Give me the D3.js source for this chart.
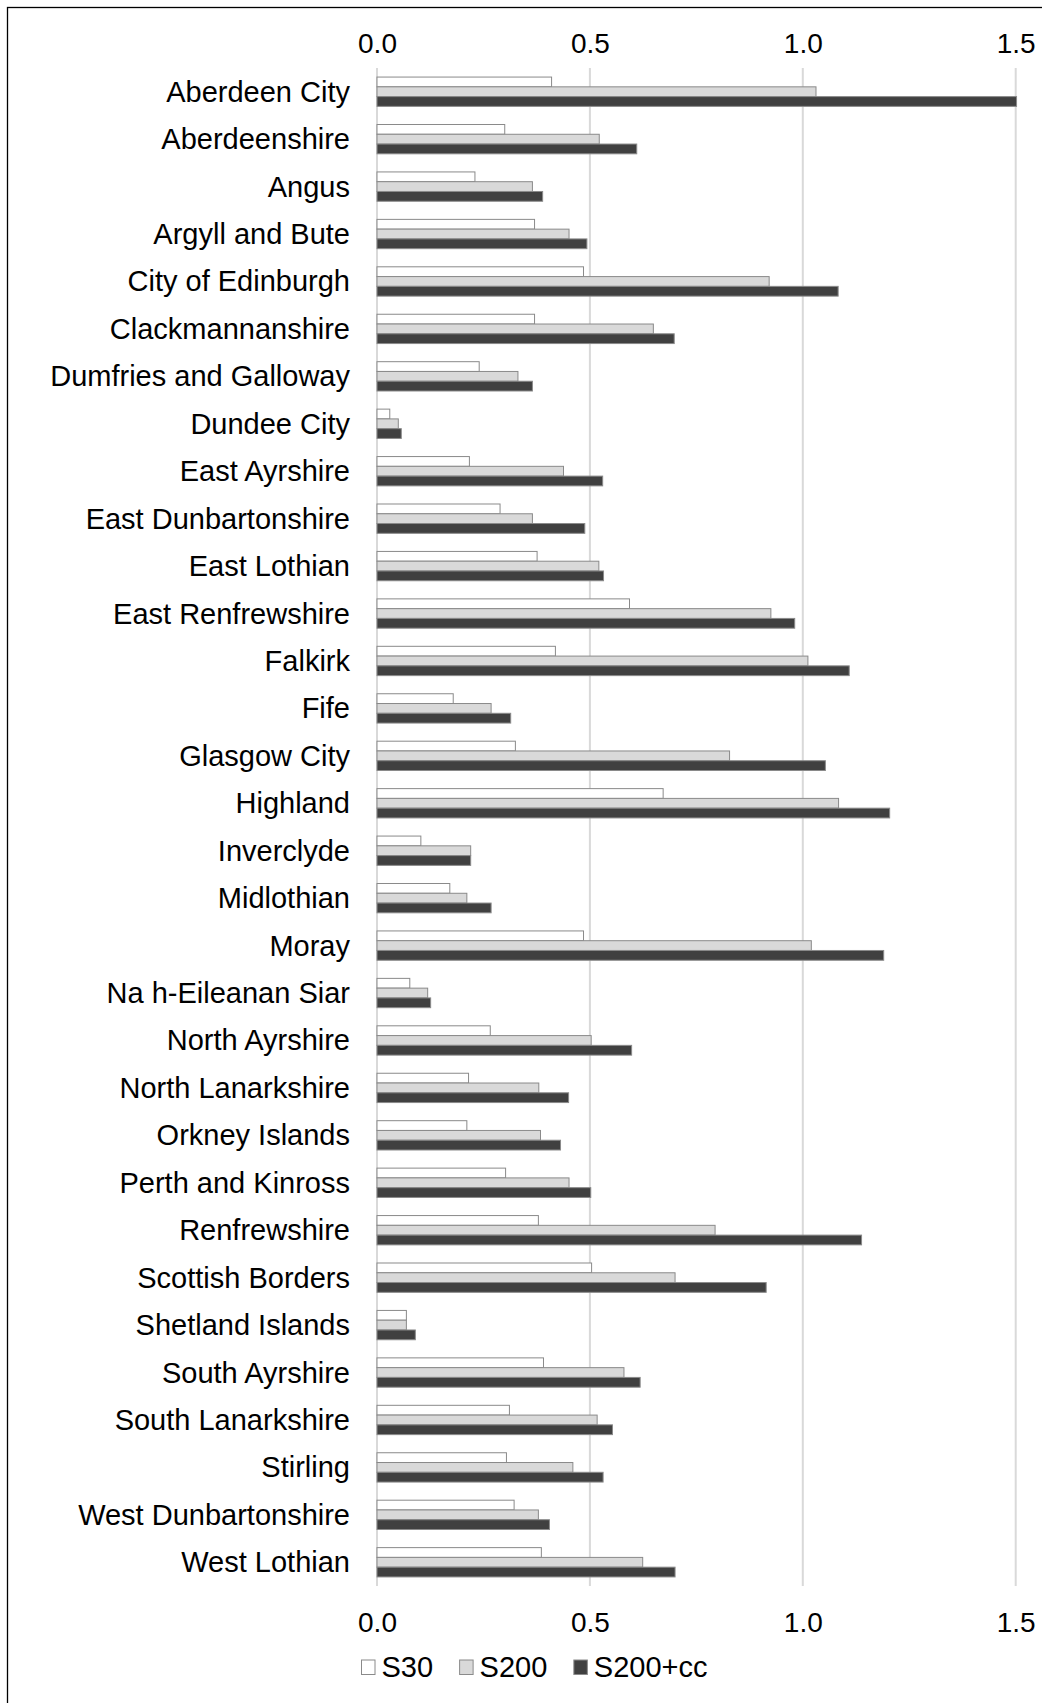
<!DOCTYPE html>
<html>
<head>
<meta charset="utf-8">
<script src="https://cdn.jsdelivr.net/npm/d3@7"></script>
<style>
  html, body { margin: 0; padding: 0; background: #fff; }
  svg { display: block; }
  text { font-family: "Liberation Sans", Arial, sans-serif; fill: #000; }
</style>
</head>
<body>
<svg id="chart" width="1042" height="1703"></svg>
<script>
// Council areas, top to bottom
const categories = [
  "Aberdeen City", "Aberdeenshire", "Angus", "Argyll and Bute", "City of Edinburgh",
  "Clackmannanshire", "Dumfries and Galloway", "Dundee City", "East Ayrshire",
  "East Dunbartonshire", "East Lothian", "East Renfrewshire", "Falkirk", "Fife",
  "Glasgow City", "Highland", "Inverclyde", "Midlothian", "Moray",
  "Na h-Eileanan Siar", "North Ayrshire", "North Lanarkshire", "Orkney Islands",
  "Perth and Kinross", "Renfrewshire", "Scottish Borders", "Shetland Islands",
  "South Ayrshire", "South Lanarkshire", "Stirling", "West Dunbartonshire", "West Lothian"
];

const seriesNames = ["S30", "S200", "S200+cc"];

const s30 = [
  0.41, 0.30, 0.23, 0.37, 0.485, 0.37, 0.24, 0.03, 0.217,
  0.289, 0.376, 0.593, 0.419, 0.179, 0.325, 0.672, 0.103, 0.171, 0.485,
  0.077, 0.266, 0.215, 0.211, 0.302, 0.379, 0.504, 0.069,
  0.391, 0.311, 0.304, 0.322, 0.386
];
const s200 = [
  1.031, 0.522, 0.365, 0.451, 0.921, 0.649, 0.331, 0.05, 0.438,
  0.365, 0.521, 0.925, 1.012, 0.268, 0.828, 1.084, 0.22, 0.211, 1.02,
  0.119, 0.503, 0.38, 0.384, 0.451, 0.794, 0.70, 0.069,
  0.58, 0.517, 0.46, 0.379, 0.624
];
const s200cc = [
  1.502, 0.61, 0.389, 0.493, 1.083, 0.698, 0.365, 0.057, 0.53,
  0.488, 0.532, 0.981, 1.109, 0.314, 1.053, 1.204, 0.22, 0.268, 1.19,
  0.126, 0.598, 0.45, 0.431, 0.502, 1.138, 0.914, 0.09,
  0.618, 0.553, 0.531, 0.405, 0.70
];

const tickValues = [0, 0.5, 1.0, 1.5];
const tickLabels = ["0.0", "0.5", "1.0", "1.5"];

const seriesValues = [s30, s200, s200cc];
const fills = ["#ffffff", "#d9d9d9", "#404040"];

const svg = d3.select("#chart");

// outer frame (only the top and left edges fall inside the canvas)
svg.append("rect")
  .attr("x", 7.5).attr("y", 7.5)
  .attr("width", 1100).attr("height", 1800)
  .attr("fill", "none").attr("stroke", "#000").attr("stroke-width", 1.3);

const plot = { left: 377, right: 1015.7, top: 68, bottom: 1586 };

const x = d3.scaleLinear().domain([0, 1.5]).range([plot.left, plot.right]);

const y = d3.scaleBand()
  .domain(categories)
  .range([plot.top, plot.bottom])
  .paddingInner(0.382)
  .paddingOuter(0.191);

const ySub = d3.scaleBand()
  .domain(seriesNames)
  .range([0, y.bandwidth()])
  .padding(0);

// vertical gridlines (including the zero line)
svg.append("g")
  .selectAll("line")
  .data(tickValues)
  .join("line")
  .attr("x1", d => x(d)).attr("x2", d => x(d))
  .attr("y1", plot.top).attr("y2", plot.bottom)
  .attr("stroke", "#d9d9d9").attr("stroke-width", 2);

// bars
const rows = categories.map((c, i) => ({
  cat: c,
  vals: seriesNames.map((s, k) => ({ series: s, k, v: seriesValues[k][i] }))
}));

const groups = svg.append("g")
  .selectAll("g")
  .data(rows)
  .join("g")
  .attr("transform", d => `translate(0,${y(d.cat)})`);

groups.selectAll("rect")
  .data(d => d.vals)
  .join("rect")
  .attr("x", x(0))
  .attr("y", d => ySub(d.series))
  .attr("width", d => x(d.v) - x(0))
  .attr("height", ySub.bandwidth())
  .attr("fill", d => fills[d.k])
  .attr("stroke", "#8a8a8a")
  .attr("stroke-width", 1);

// category labels
svg.append("g")
  .selectAll("text")
  .data(categories)
  .join("text")
  .attr("x", 350)
  .attr("y", d => y(d) + y.bandwidth() / 2 + 10)
  .attr("text-anchor", "end")
  .attr("font-size", 29)
  .text(d => d);

// value axes above and below the plot
const axisTop = d3.axisTop(x).tickValues(tickValues)
  .tickFormat((d, i) => tickLabels[i]).tickSize(0).tickPadding(0);
const axisBottom = d3.axisBottom(x).tickValues(tickValues)
  .tickFormat((d, i) => tickLabels[i]).tickSize(0).tickPadding(0);

const gTop = svg.append("g").attr("transform", "translate(0,53)").call(axisTop);
const gBot = svg.append("g").attr("transform", "translate(0,1611)").call(axisBottom);

[gTop, gBot].forEach(g => {
  g.select(".domain").remove();
  g.selectAll("text")
    .attr("font-size", 28)
    .attr("font-family", "'Liberation Sans', Arial, sans-serif")
    .attr("fill", "#000");
});
gTop.selectAll("text").attr("dy", 0);
gBot.selectAll("text").attr("dy", 0).attr("y", 20.5);

// legend
const legend = svg.append("g").attr("transform", "translate(361,1676.5)");
let cursor = 0;
seriesNames.forEach((name, k) => {
  legend.append("rect")
    .attr("x", cursor + 0.5).attr("y", -16.5)
    .attr("width", 13.5).attr("height", 14.5)
    .attr("fill", fills[k]).attr("stroke", "#8a8a8a").attr("stroke-width", 1);
  const t = legend.append("text")
    .attr("x", cursor + 20.5).attr("y", 0)
    .attr("font-size", 29)
    .text(name);
  cursor += 20.5 + t.node().getComputedTextLength() + 26;
});
</script>
</body>
</html>
